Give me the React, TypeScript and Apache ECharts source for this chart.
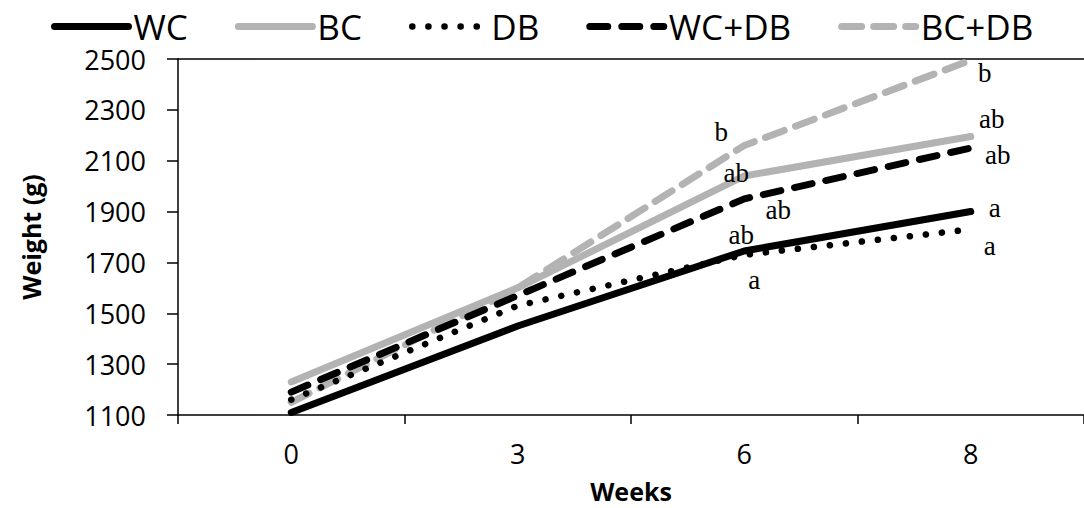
import React, { useEffect, useRef } from "react";
import * as echarts from "echarts";

const weeks = ["0", "3", "6", "8"];
const WC = [1110, 1450, 1745, 1900];
const BC = [1230, 1600, 2040, 2195];
const DB = [1160, 1530, 1730, 1830];
const WCDB = [1190, 1570, 1950, 2150];
const BCDB = [1150, 1600, 2160, 2495];

const WC_sig = ["", "", "ab", "a"];
const BC_sig = ["", "", "ab", "ab"];
const DB_sig = ["", "", "a", "a"];
const WCDB_sig = ["", "", "ab", "ab"];
const BCDB_sig = ["", "", "b", "b"];

const yTicks = { min: 1100, max: 2500, interval: 200 };

const GRAY = "#b3b3b3";
const BLACK = "#000000";

function mkData(values: number[], sig: string[], offsets: number[][]) {
  return values.map((v, i) => ({
    value: v,
    label: sig[i]
      ? { show: true, formatter: sig[i], offset: offsets[i] }
      : { show: false },
  }));
}

export default function App() {
  const ref = useRef<HTMLDivElement>(null);
  useEffect(() => {
    if (!ref.current) return;
    const chart = echarts.init(ref.current, null, { renderer: "svg" });
    const labelStyle = {
      position: "inside",
      align: "center",
      verticalAlign: "middle",
      fontFamily: "Liberation Serif",
      fontSize: 27,
      color: "#000",
    };
    const common = {
      type: "line",
      symbol: "circle",
      symbolSize: 0.01,
      label: labelStyle,
      emphasis: { disabled: true },
    };
    chart.setOption({
      animation: false,
      legend: {
        left: 46,
        top: 4,
        itemWidth: 74,
        itemHeight: 14,
        itemGap: 47,
        textStyle: { fontFamily: "Open Sans", fontSize: 35, color: "#000", padding: [0, 0, 0, 0] },
        itemStyle: { opacity: 0 },
        data: [
          { name: "WC", lineStyle: { width: 7 } },
          { name: "BC", lineStyle: { width: 7 } },
          { name: "DB", lineStyle: { width: 6.5 } },
          { name: "WC+DB", lineStyle: { width: 7 } },
          { name: "BC+DB", lineStyle: { width: 7 } },
        ],
      },
      grid: { left: 178, top: 59, width: 912, bottom: 92 },
      xAxis: [
        {
          type: "category",
          data: weeks,
          boundaryGap: true,
          name: "Weeks",
          nameLocation: "middle",
          nameGap: 63,
          nameTextStyle: { fontFamily: "Open Sans", fontWeight: "bold", fontSize: 25, color: "#000" },
          axisLine: { lineStyle: { color: "#000", width: 1.5 } },
          axisTick: { show: true, inside: false, length: 9, lineStyle: { color: "#000", width: 1.5 } },
          axisLabel: { fontFamily: "Open Sans", fontSize: 27, color: "#000", margin: 25 },
        },
        {
          type: "category",
          data: weeks,
          position: "top",
          axisLine: { show: true, lineStyle: { color: "#000", width: 1.5 } },
          axisTick: { show: false },
          axisLabel: { show: false },
        },
      ],
      yAxis: {
        type: "value",
        min: yTicks.min,
        max: yTicks.max,
        interval: yTicks.interval,
        name: "Weight (g)",
        nameLocation: "middle",
        nameGap: 135,
        nameTextStyle: { fontFamily: "Open Sans", fontWeight: "bold", fontSize: 25, color: "#000" },
        axisLine: { show: true, lineStyle: { color: "#000", width: 1.5 } },
        axisTick: { show: true, inside: false, length: 11, lineStyle: { color: "#000", width: 1.5 } },
        axisLabel: {
          fontFamily: "Open Sans",
          fontSize: 27,
          color: "#000",
          margin: 32,
          formatter: (v: number) => String(v),
        },
        splitLine: { show: false },
      },
      series: [
        {
          ...common,
          name: "WC",
          z: 5,
          data: mkData(WC, WC_sig, [[0, 0], [0, 0], [-3, -16], [24, -4]]),
          lineStyle: { color: BLACK, width: 7, type: "solid", cap: "round" },
          itemStyle: { color: BLACK },
        },
        {
          ...common,
          name: "BC",
          z: 3,
          data: mkData(BC, BC_sig, [[0, 0], [0, 0], [-8, -3], [21, -18]]),
          lineStyle: { color: GRAY, width: 7, type: "solid", cap: "round" },
          itemStyle: { color: GRAY },
        },
        {
          ...common,
          name: "DB",
          z: 4,
          data: mkData(DB, DB_sig, [[0, 0], [0, 0], [10, 25], [19, 17]]),
          lineStyle: { color: BLACK, width: 6.5, type: [0.1, 16], cap: "round" },
          itemStyle: { color: BLACK },
        },
        {
          ...common,
          name: "WC+DB",
          z: 4,
          data: mkData(WCDB, WCDB_sig, [[0, 0], [0, 0], [34, 11], [27, 7]]),
          lineStyle: { color: BLACK, width: 7, type: [18, 14], cap: "round" },
          itemStyle: { color: BLACK },
        },
        {
          ...common,
          name: "BC+DB",
          z: 2,
          data: mkData(BCDB, BCDB_sig, [[0, 0], [0, 0], [-23, -13], [14, 13]]),
          lineStyle: { color: GRAY, width: 7, type: [20, 12], cap: "round" },
          itemStyle: { color: GRAY },
        },
      ],
    });
    return () => chart.dispose();
  }, []);
  return <div ref={ref} style={{ width: 1084, height: 508, position: "absolute", left: 0, top: 0 }} />;
}
